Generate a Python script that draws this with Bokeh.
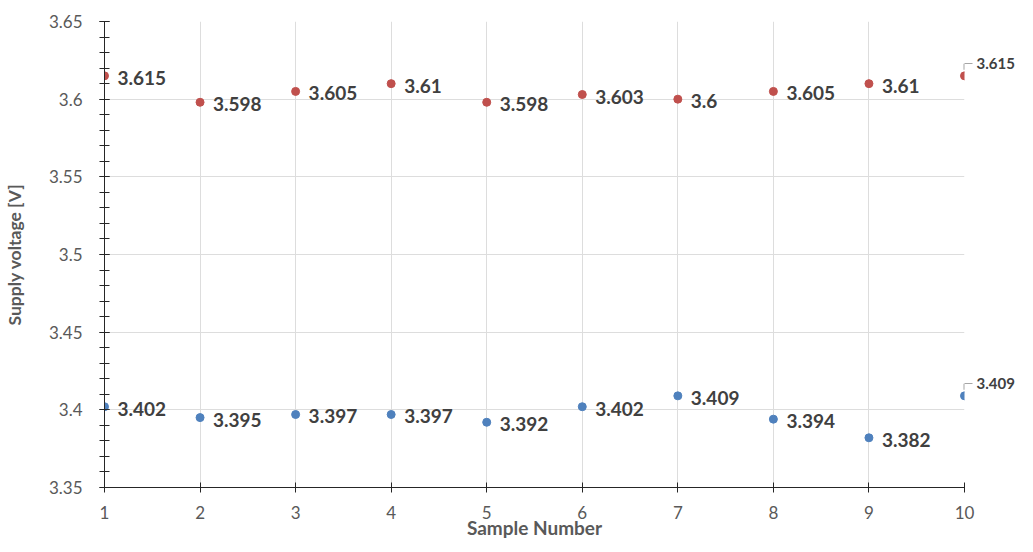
from bokeh.plotting import figure
from bokeh.models import (FixedTicker, CustomJSTickFormatter, Range1d, ColumnDataSource,
                          LabelSet, LinearAxis)
from bokeh.core.properties import value
from bokeh.embed import file_html
from bokeh.resources import INLINE
import numpy as np

samples = [1, 2, 3, 4, 5, 6, 7, 8, 9, 10]
upper = [3.615, 3.598, 3.605, 3.61, 3.598, 3.603, 3.6, 3.605, 3.61, 3.615]
lower = [3.402, 3.395, 3.397, 3.397, 3.392, 3.402, 3.409, 3.394, 3.382, 3.409]
y_ticks = [3.35, 3.4, 3.45, 3.5, 3.55, 3.6, 3.65]
x_ticks = samples
x_title = "Sample Number"
y_title = "Supply voltage [V]"

X_START, X_END = 1, 10
Y_START, Y_END = 3.35, 3.65
W, H = 1017, 543
B_LEFT, B_RIGHT, B_TOP, B_BOTTOM = 100, 52, 21, 56
FRAME_H = H - B_TOP - B_BOTTOM
FONT = "Lato"
RED = "#C0504D"
BLUE = "#4F81BD"
LABEL_COLOR = "#404040"
AXIS_TEXT = "#595959"
LEADER = "#A6A6A6"

p = figure(width=W, height=H,
           x_range=Range1d(X_START, X_END), y_range=Range1d(Y_START, Y_END),
           output_backend="svg", toolbar_location=None,
           min_border_left=B_LEFT, min_border_right=B_RIGHT,
           min_border_top=B_TOP, min_border_bottom=B_BOTTOM,
           background_fill_color="white", border_fill_color="white")
p.outline_line_color = None

# axes
p.xaxis.ticker = FixedTicker(ticks=x_ticks)
p.yaxis.ticker = FixedTicker(ticks=y_ticks, minor_ticks=list(np.round(np.arange(Y_START, Y_END + 0.001, 0.01), 3)))
p.yaxis.formatter = CustomJSTickFormatter(code="return String(Math.round(tick*1000)/1000);")

for ax in (p.xaxis[0], p.yaxis[0]):
    ax.axis_line_color = "#262626"
    ax.major_tick_line_color = "#262626"
    ax.minor_tick_line_color = "#262626"
    ax.major_tick_in = 5
    ax.major_tick_out = 5
    ax.major_label_text_font = FONT
    ax.major_label_text_font_size = "17px"
    ax.major_label_text_color = AXIS_TEXT
    ax.axis_label_text_font = FONT
    ax.axis_label_text_font_style = "bold"
    ax.axis_label_text_color = AXIS_TEXT
p.xaxis.axis_label_text_font_size = "19px"
p.yaxis.axis_label_text_font_size = "17.5px"
p.xaxis.minor_tick_line_color = None
p.yaxis.minor_tick_in = 5
p.yaxis.minor_tick_out = 5
p.xaxis.major_label_standoff = 13
p.xaxis.axis_label_standoff = -6
p.yaxis.major_label_standoff = 17
p.yaxis.axis_label_standoff = 21
p.xaxis.axis_label = x_title
p.yaxis.axis_label = y_title

p.xgrid.grid_line_color = "#DDDDDD"
p.ygrid.grid_line_color = "#DDDDDD"
p.xgrid.ticker = FixedTicker(ticks=x_ticks)
p.ygrid.ticker = FixedTicker(ticks=y_ticks)

dy = (Y_END - Y_START) / FRAME_H

# labels of the last point sit outside the frame: a right axis carries them,
# its ticks form the horizontal part of the leader lines
last_vals = sorted([upper[-1], lower[-1]])
last_ticks = [v + 12 * dy for v in last_vals]
right = LinearAxis(ticker=FixedTicker(ticks=last_ticks),
                   formatter=CustomJSTickFormatter(args=dict(labels=[f"{v:g}" for v in last_vals]),
                                                   code="return labels[index];"),
                   axis_line_color=None, major_tick_line_color=LEADER,
                   major_tick_in=0, major_tick_out=8, minor_tick_line_color=None,
                   major_label_standoff=4, major_label_text_font=FONT,
                   major_label_text_font_size="15px", major_label_text_font_style="bold",
                   major_label_text_color=LABEL_COLOR)
p.add_layout(right, "right")

for vals, col in ((upper, RED), (lower, BLUE)):
    src = ColumnDataSource(dict(x=samples, y=vals))
    p.scatter("x", "y", source=src, size=8, fill_color=col, line_color=col)
    lab = ColumnDataSource(dict(x=samples[:-1], y=vals[:-1], t=[f"{v:g}" for v in vals[:-1]]))
    p.add_layout(LabelSet(x="x", y="y", text="t", source=lab, x_offset=13, y_offset=-2,
                          text_font=value(FONT), text_font_size="19px", text_font_style="bold",
                          text_color=LABEL_COLOR, text_baseline="middle", text_align="left"))
    # vertical part of the leader line
    p.segment(x0=samples[-1], y0=vals[-1] + 6 * dy, x1=samples[-1], y1=vals[-1] + 12 * dy,
              line_color=LEADER, line_width=2)

open("out.html", "w").write(file_html(p, INLINE))
